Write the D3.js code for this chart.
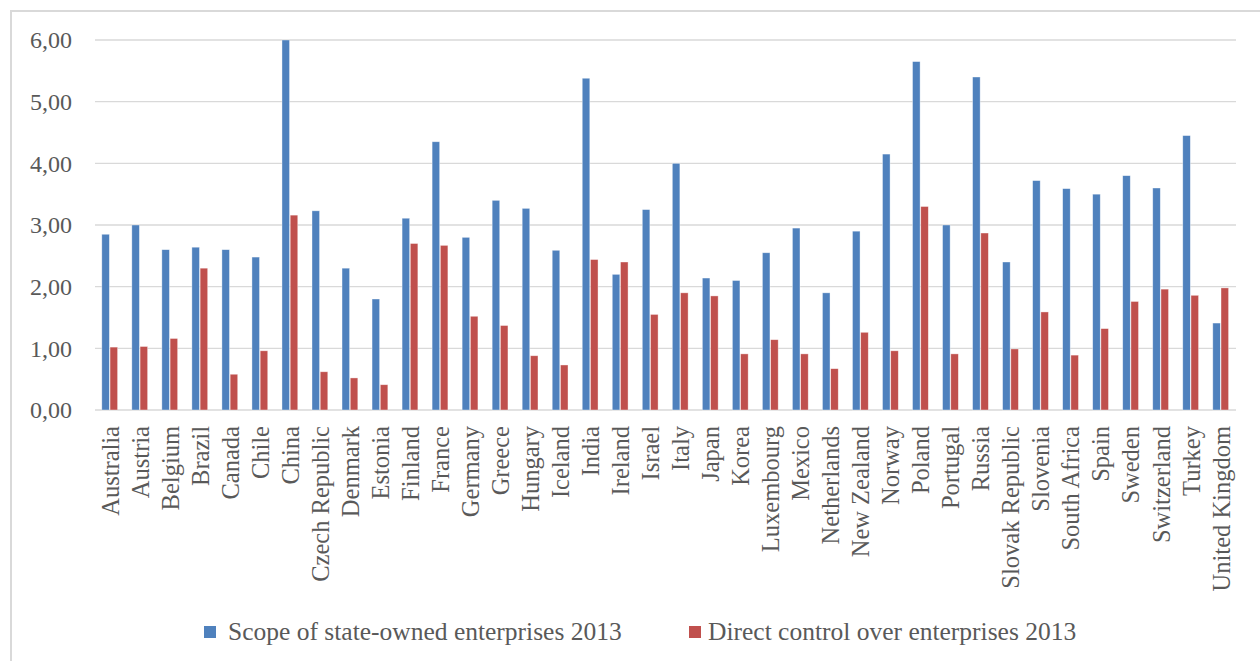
<!DOCTYPE html>
<html>
<head>
<meta charset="utf-8">
<script src="https://cdn.jsdelivr.net/npm/d3@7"></script>
<style>
  html, body { margin: 0; padding: 0; background: #ffffff; }
  svg { display: block; }
  text { font-family: "Liberation Serif", "Times New Roman", serif; fill: #595959; }
</style>
</head>
<body>
<svg id="chart" width="1260" height="661"></svg>
<script>
// Countries on the category axis
const countries = [
  "Australia", "Austria", "Belgium", "Brazil", "Canada", "Chile", "China",
  "Czech Republic", "Denmark", "Estonia", "Finland", "France", "Germany",
  "Greece", "Hungary", "Iceland", "India", "Ireland", "Israel", "Italy",
  "Japan", "Korea", "Luxembourg", "Mexico", "Netherlands", "New Zealand",
  "Norway", "Poland", "Portugal", "Russia", "Slovak Republic", "Slovenia",
  "South Africa", "Spain", "Sweden", "Switzerland", "Turkey", "United Kingdom"
];

// Scope of state-owned enterprises, 2013
const scopeSOE = [
  2.85, 3.00, 2.60, 2.64, 2.60, 2.48, 6.00,
  3.23, 2.30, 1.80, 3.11, 4.35, 2.80,
  3.40, 3.27, 2.59, 5.38, 2.20, 3.25, 4.00,
  2.14, 2.10, 2.55, 2.95, 1.90, 2.90,
  4.15, 5.65, 3.00, 5.40, 2.40, 3.72,
  3.59, 3.50, 3.80, 3.60, 4.45, 1.41
];

// Direct control over enterprises, 2013
const directControl = [
  1.02, 1.03, 1.16, 2.30, 0.58, 0.96, 3.16,
  0.62, 0.52, 0.41, 2.70, 2.67, 1.52,
  1.37, 0.88, 0.73, 2.44, 2.40, 1.55, 1.90,
  1.85, 0.91, 1.14, 0.91, 0.67, 1.26,
  0.96, 3.30, 0.91, 2.87, 0.99, 1.59,
  0.89, 1.32, 1.76, 1.96, 1.86, 1.98
];

const seriesNames = ["Scope of state-owned enterprises 2013", "Direct control over enterprises 2013"];
const seriesColors = ["#4f81bd", "#c0504d"];
const yTicks = [0, 1, 2, 3, 4, 5, 6];

const svg = d3.select("#chart");

// outer chart frame (runs off the right and bottom edges)
svg.append("rect")
  .attr("x", 11).attr("y", 11)
  .attr("width", 1300).attr("height", 700)
  .attr("fill", "none")
  .attr("stroke", "#d9d9d9")
  .attr("stroke-width", 2);

const plot = { left: 95, right: 1236, top: 40, bottom: 410 };

const x0 = d3.scaleBand().domain(countries).range([plot.left, plot.right]).padding(0);
const x1 = d3.scaleBand()
  .domain(d3.range(seriesNames.length))
  .range([x0.bandwidth() / 2 - 8.2, x0.bandwidth() / 2 + 7.6])
  .paddingInner(0.08);
const y = d3.scaleLinear().domain([0, 6]).range([plot.bottom, plot.top]);

const locale = d3.formatLocale({ decimal: ",", thousands: ".", grouping: [3], currency: ["", "€"] });
const fmt = locale.format(".2f");

// horizontal gridlines
svg.append("g")
  .selectAll("line")
  .data(yTicks)
  .join("line")
  .attr("x1", plot.left).attr("x2", plot.right)
  .attr("y1", d => y(d)).attr("y2", d => y(d))
  .attr("stroke", "#d9d9d9")
  .attr("stroke-width", 1.4);

// value axis
const yAxis = svg.append("g")
  .attr("transform", `translate(${plot.left},0)`)
  .call(d3.axisLeft(y).tickValues(yTicks).tickFormat(fmt).tickSize(0).tickPadding(23));
yAxis.select(".domain").remove();
yAxis.selectAll("text")
  .attr("font-family", "Liberation Serif, serif")
  .attr("font-size", 24)
  .attr("fill", "#595959")
  .attr("dy", "0.33em");

// bars
const rows = countries.map((c, i) => ({ country: c, values: [scopeSOE[i], directControl[i]] }));
const groups = svg.append("g")
  .selectAll("g")
  .data(rows)
  .join("g")
  .attr("transform", d => `translate(${x0(d.country)},0)`);

groups.selectAll("rect")
  .data(d => d.values.map((v, k) => ({ k, v })))
  .join("rect")
  .attr("x", d => x1(d.k))
  .attr("width", x1.bandwidth())
  .attr("y", d => y(d.v))
  .attr("height", d => y(0) - y(d.v))
  .attr("fill", d => seriesColors[d.k])
  .attr("stroke", "#ffffff")
  .attr("stroke-opacity", 0.55)
  .attr("stroke-width", 0.7);

// category axis labels, vertical
const xAxis = svg.append("g")
  .attr("transform", `translate(0,${plot.bottom})`)
  .call(d3.axisBottom(x0).tickSize(0).tickPadding(0));
xAxis.select(".domain").remove();
xAxis.selectAll("text")
  .attr("font-family", "Liberation Serif, serif")
  .attr("font-size", 24.5)
  .attr("fill", "#595959")
  .attr("text-anchor", "end")
  .attr("transform", "rotate(-90)")
  .attr("x", -16)
  .attr("y", 0)
  .attr("dy", "0.35em");

// legend
const legendItems = [
  { name: seriesNames[0], color: seriesColors[0], sx: 204, tx: 228 },
  { name: seriesNames[1], color: seriesColors[1], sx: 689, tx: 708 }
];
const legend = svg.append("g");
legend.selectAll("rect")
  .data(legendItems)
  .join("rect")
  .attr("x", d => d.sx).attr("y", 626)
  .attr("width", 12).attr("height", 12)
  .attr("fill", d => d.color);
legend.selectAll("text")
  .data(legendItems)
  .join("text")
  .attr("x", d => d.tx).attr("y", 640)
  .attr("font-size", 25.5)
  .text(d => d.name);
</script>
</body>
</html>
